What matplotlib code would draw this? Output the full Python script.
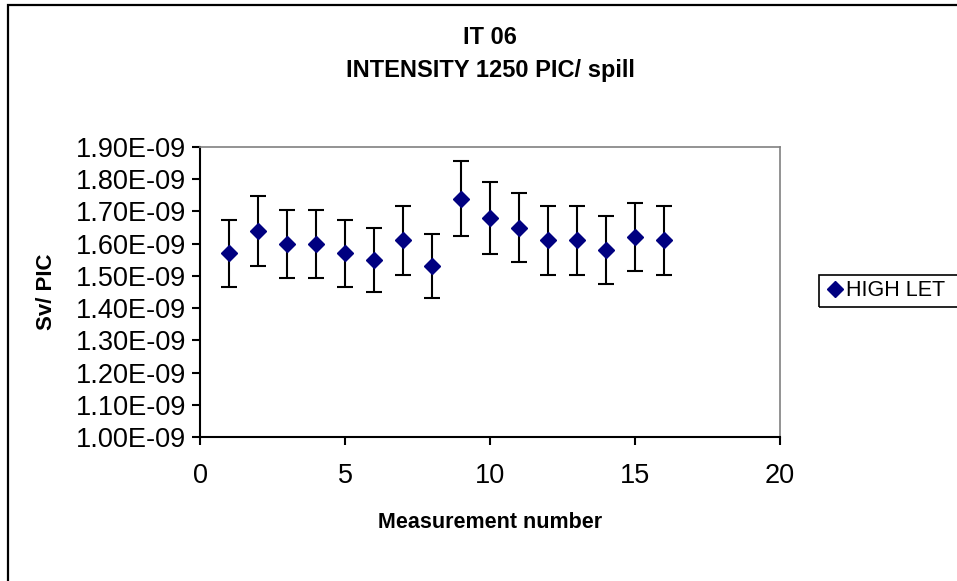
import numpy as np
import matplotlib
matplotlib.use("Agg")
import matplotlib.pyplot as plt
from matplotlib.ticker import FuncFormatter, MultipleLocator
from matplotlib.patches import Rectangle
from matplotlib.lines import Line2D

plt.rcParams['font.family'] = ['Liberation Sans', 'DejaVu Sans']

# measurement number / dose per particle (Sv/PIC) / error
measurement = [1, 2, 3, 4, 5, 6, 7, 8, 9, 10, 11, 12, 13, 14, 15, 16]
dose = np.array([1.57, 1.64, 1.60, 1.60, 1.57, 1.55, 1.61, 1.53,
                 1.74, 1.68, 1.65, 1.61, 1.61, 1.58, 1.62, 1.61]) * 1e-9
dose_err = np.array([0.103, 0.109, 0.106, 0.106, 0.103, 0.100, 0.106, 0.100,
                     0.116, 0.111, 0.108, 0.106, 0.106, 0.105, 0.106, 0.106]) * 1e-9
series_name = "HIGH LET"

fig = plt.figure(figsize=(9.57, 5.81), dpi=100)
ax = fig.add_axes([200/957, 1-437/581, 580/957, 290/581])

# Rahmen um das ganze Diagramm (rechts und unten abgeschnitten)
fig.patches.append(Rectangle((8/957, -0.05), 1.1, 1-5/581+0.05, transform=fig.transFigure,
                             fill=False, edgecolor='black', linewidth=1.6, clip_on=False))

ax.errorbar(measurement, dose, yerr=dose_err, fmt='D', color='#000080',
            markersize=8, ecolor='black', elinewidth=1.5, capsize=5.5, capthick=1.5)

ax.set_xlim(0, 20)
ax.set_ylim(1.0e-9, 1.9e-9)
ax.xaxis.set_major_locator(MultipleLocator(5))
ax.yaxis.set_major_locator(MultipleLocator(0.1e-9))
ax.yaxis.set_major_formatter(FuncFormatter(lambda v, p: f"{v:.2E}"))
ax.tick_params(direction='out', length=6, width=1.5, labelsize=19.5, pad=4)
ax.tick_params(axis='x', pad=13)

for s in ['top', 'right']:
    ax.spines[s].set_color('#808080')
    ax.spines[s].set_linewidth(1.2)
for s in ['left', 'bottom']:
    ax.spines[s].set_linewidth(1.5)

fig.text(490/957, 1-38/581, "IT 06", ha='center', va='center', fontsize=17, fontweight='bold')
fig.text(490/957, 1-71/581, "INTENSITY 1250 PIC/ spill", ha='center', va='center',
         fontsize=17, fontweight='bold')
fig.text(490/957, 1-522/581, "Measurement number", ha='center', va='center',
         fontsize=15.5, fontweight='bold')
fig.text(47/957, 1-292/581, "Sv/ PIC", ha='center', va='center', rotation=90,
         fontsize=16, fontweight='bold')

# Legendenkasten geht rechts über den Rand hinaus
fig.patches.append(Rectangle((819/957, 1-307/581), 0.3, 32/581, transform=fig.transFigure,
                             fill=False, edgecolor='black', linewidth=1.2, clip_on=False))
handle = Line2D([], [], marker='D', color='#000080', linestyle='none', markersize=8)
leg = fig.legend([handle], [series_name], loc='center left',
                 bbox_to_anchor=(826/957, 1-291/581), fontsize=15.5,
                 frameon=False, handlelength=0.8, handletextpad=0.15,
                 borderpad=0, borderaxespad=0)

fig.savefig("out.png", dpi=100)
